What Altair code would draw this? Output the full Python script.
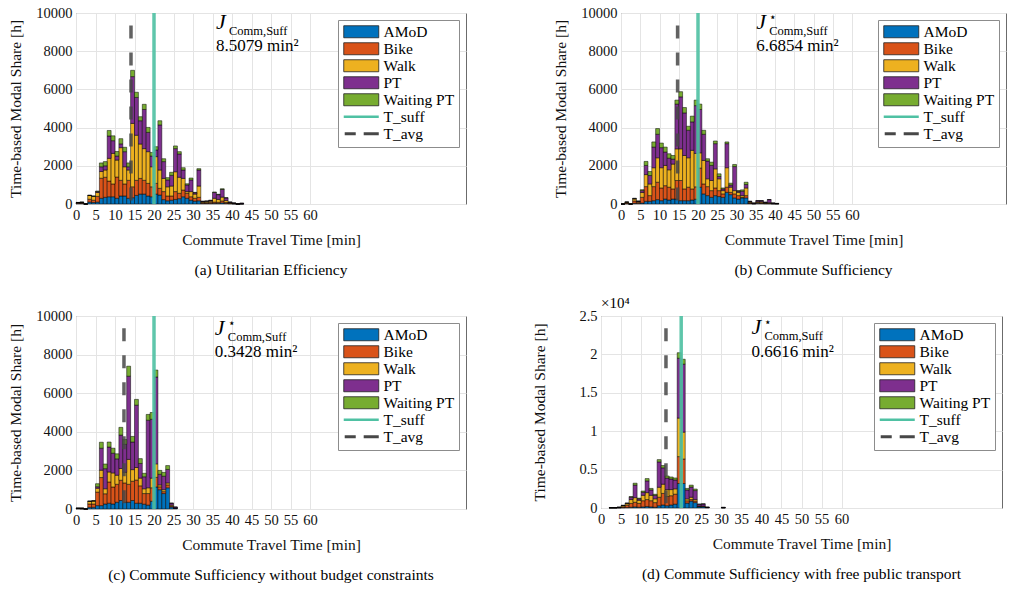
import altair as alt
import pandas as pd

SERIF = "Liberation Serif"

MODES = ["AMoD", "Bike", "Walk", "PT", "Waiting PT"]
MODE_COLORS = ["#0072BD", "#D95319", "#EDB120", "#7E2F8E", "#77AC30"]
LINE_NAMES = ["T_suff", "T_avg"]
LINE_COLORS = ["#4fc1a3", "#474747"]

X_TICKS = [0, 5, 10, 15, 20, 25, 30, 35, 40, 45, 50, 55, 60]
Y_TICKS_ABC = [0, 2000, 4000, 6000, 8000, 10000]
Y_TICKS_D = [0, 5000, 10000, 15000, 20000, 25000]

# ---------------- panel (a) Utilitarian Efficiency ----------------
A_MIN = [0, 1, 2, 3, 4, 5, 6, 7, 8, 9, 10, 11, 12, 13, 14, 15, 16, 17, 18, 19, 20,
         21, 22, 23, 24, 25, 26, 27, 28, 29, 30, 31, 32, 33, 34, 35, 36, 37, 38, 39, 40, 41, 42]
A_AMOD = [30, 30, 0, 100, 80, 100, 300, 350, 380, 380, 300, 420, 420, 300, 330, 450, 520, 520, 420, 380, 520,
          470, 230, 170, 200, 240, 280, 380, 300, 200, 150, 170, 30, 30, 30, 40, 40, 60, 30, 20, 10, 0, 10]
A_BIKE = [30, 30, 0, 150, 120, 300, 1050, 1050, 820, 670, 1110, 820, 630, 940, 570, 790, 820, 720, 660, 520, 560,
          350, 420, 250, 220, 410, 280, 350, 260, 180, 150, 180, 40, 40, 60, 60, 50, 100, 50, 20, 10, 0, 0]
A_WALK = [20, 30, 0, 200, 200, 200, 350, 380, 1190, 1600, 890, 1710, 900, 540, 3320, 2360, 1800, 1660, 1660, 1050, 1400,
          960, 690, 480, 520, 1040, 840, 610, 90, 270, 220, 590, 40, 50, 60, 200, 150, 200, 100, 30, 20, 0, 0]
A_PT = [0, 0, 0, 0, 0, 50, 250, 220, 1170, 665, 210, 200, 790, 170, 2450, 1980, 1220, 2050, 1010, 560, 350,
        2360, 880, 360, 560, 1210, 1220, 440, 350, 610, 70, 840, 30, 30, 40, 300, 250, 400, 140, 30, 10, 0, 30]
A_WAIT = [0, 0, 0, 0, 20, 30, 200, 220, 290, 255, 240, 270, 230, 200, 330, 270, 210, 270, 260, 190, 170,
          220, 150, 120, 160, 140, 120, 120, 60, 100, 20, 70, 0, 10, 0, 30, 20, 40, 10, 0, 0, 0, 0]

# ---------------- panel (b) Commute Sufficiency ----------------
B_MIN = [0, 1, 2, 3, 4, 5, 6, 7, 8, 9, 10, 11, 12, 13, 14, 15, 16, 17, 18, 19, 20,
         21, 22, 23, 24, 25, 26, 27, 28, 29, 30, 31, 32, 33, 34, 35, 36, 37, 38, 39, 40]
B_AMOD = [0, 20, 0, 40, 30, 50, 140, 140, 175, 230, 175, 260, 210, 260, 260, 175, 175, 175, 210, 250, 880,
          530, 440, 350, 440, 390, 350, 610, 490, 320, 260, 320, 320, 30, 10, 40, 30, 20, 20, 10, 10]
B_BIKE = [0, 40, 0, 120, 60, 300, 770, 300, 735, 910, 665, 700, 670, 530, 970, 1055, 615, 705, 580, 650, 1000,
          520, 470, 350, 400, 310, 180, 270, 120, 210, 180, 30, 120, 30, 10, 40, 40, 20, 20, 10, 5]
B_WALK = [0, 40, 0, 100, 40, 250, 630, 610, 990, 1280, 1060, 1060, 910, 1300, 1660, 1660, 1750, 1540, 2020, 1750, 800,
          1230, 410, 530, 1000, 620, 170, 1020, 270, 170, 170, 90, 400, 40, 10, 40, 50, 20, 30, 10, 5]
B_PT = [0, 0, 0, 30, 20, 100, 480, 440, 1080, 1230, 1050, 700, 610, 260, 2340, 2720, 2230, 1440, 1490, 2500, 2270,
        1370, 930, 790, 1320, 120, 90, 1260, 120, 1260, 60, 230, 180, 40, 20, 55, 55, 30, 160, 20, 10]
B_WAIT = [0, 0, 0, 10, 0, 50, 210, 210, 270, 300, 240, 260, 230, 190, 210, 270, 280, 210, 300, 290, 280,
          210, 120, 170, 140, 140, 50, 90, 90, 110, 30, 70, 120, 0, 0, 0, 0, 0, 0, 0, 0]

# ---------------- panel (c) without budget constraints ----------------
C_MIN = [0, 1, 2, 3, 4, 5, 6, 7, 8, 9, 10, 11, 12, 13, 14, 15, 16, 17, 18, 19, 20, 21, 22, 23, 24, 25]
C_AMOD = [20, 10, 0, 90, 90, 175, 175, 260, 300, 260, 350, 440, 350, 350, 440, 300, 300, 250, 200, 400, 1140,
          1000, 800, 1100, 100, 50]
C_BIKE = [10, 10, 0, 170, 170, 700, 1455, 530, 1100, 880, 930, 1050, 1000, 930, 1000, 1200, 900, 550, 600, 700, 500,
          150, 100, 150, 50, 0]
C_WALK = [10, 20, 0, 140, 160, 200, 380, 260, 520, 730, 470, 610, 550, 1290, 600, 650, 400, 250, 300, 500, 700,
          100, 100, 100, 50, 0]
C_PT = [0, 0, 0, 0, 0, 80, 1140, 1040, 1290, 1020, 850, 1730, 1450, 4310, 1430, 3230, 760, 620, 3500, 3050, 4500,
        550, 700, 700, 100, 50]
C_WAIT = [0, 0, 0, 0, 0, 155, 310, 240, 260, 260, 260, 400, 250, 520, 290, 300, 250, 180, 300, 350, 360,
          200, 200, 200, 0, 0]

# ---------------- panel (d) free public transport ----------------
D_MIN = [2, 3, 4, 5, 6, 7, 8, 9, 10, 11, 12, 13, 14, 15, 16, 17, 18, 19, 20, 21, 22, 23, 24, 25, 26, 30]
D_AMOD = [20, 20, 20, 50, 60, 100, 150, 100, 150, 200, 150, 100, 300, 400, 300, 400, 500, 3190, 3190,
          640, 900, 700, 150, 150, 50, 40]
D_BIKE = [10, 10, 40, 100, 300, 500, 600, 500, 800, 900, 800, 600, 1100, 1500, 1200, 1200, 1300, 3500, 3190,
          300, 200, 200, 50, 50, 20, 0]
D_WALK = [10, 10, 20, 150, 200, 500, 600, 400, 700, 900, 700, 500, 1300, 1200, 900, 800, 700, 5020, 3500,
          250, 300, 200, 50, 50, 10, 0]
D_PT = [10, 10, 20, 40, 60, 300, 1630, 200, 400, 1530, 700, 450, 3300, 2130, 1500, 1380, 1150, 7790, 8850,
        1160, 1330, 1170, 230, 270, 20, 40]
D_WAIT = [0, 0, 0, 0, 20, 90, 250, 80, 160, 300, 200, 140, 300, 300, 270, 260, 260, 720, 640,
          200, 250, 200, 30, 30, 0, 0]

# reference lines and dashed-line top, per panel
T_SUFF = [20, 20, 20, 20]
T_AVG = [14.1, 14.7, 12.3, 16.2]
AVG_TOP = [9350, 9350, 9370, 23400]
Y_MAX = [10000, 10000, 10000, 25000]

# annotations
ANN_X = [35.9, 35.1, 35.6, 37.5]
ANN_Y1 = [9530, 9530, 9380, 23570]
ANN_Y2 = [8270, 8270, 8120, 20350]
ANN_STAR = [False, True, True, True]
ANN_VAL = ["8.5079 min²", "6.6854 min²", "0.3428 min²", "0.6616 min²"]

CAPTIONS = ["(a) Utilitarian Efficiency",
            "(b) Commute Sufficiency",
            "(c) Commute Sufficiency without budget constraints",
            "(d) Commute Sufficiency with free public transport"]

LEG_DOMAIN = MODES + LINE_NAMES
LEG_RANGE = MODE_COLORS + LINE_COLORS

SYM_EXPR = ("datum.value == 'T_suff' ? 'M-2.86,-0.22H2.86V0.22H-2.86Z' : "
            "datum.value == 'T_avg' ? 'M-2.7,-0.25H-0.9V0.25H-2.7Z M0.4,-0.25H2.86V0.25H0.4Z' : "
            "'M-2.86,-0.98H2.86V0.98H-2.86Z'")
STROKE_EXPR = "(datum.value == 'T_suff' || datum.value == 'T_avg') ? 'transparent' : '#222222'"


def make_legend():
    return alt.Legend(
        title=None, orient="top-right", offset=7,
        symbolType=alt.ExprRef(expr=SYM_EXPR),
        symbolStrokeColor=alt.ExprRef(expr=STROKE_EXPR),
        symbolStrokeWidth=0.8, symbolSize=150, symbolOffset=11.5, symbolOpacity=1,
        labelOffset=14.5, labelFont=SERIF, labelFontSize=15.5, labelColor="black",
        fillColor="white", strokeColor="#8c8c8c", padding=4, rowPadding=0,
    )


def make_panel(idx, minutes, series, width, height, y_ticks, y_title_pad, scaled):
    rows = []
    for k, (mode, vals) in enumerate(zip(MODES, series)):
        for m, v in zip(minutes, vals):
            rows.append({"t0": m, "t1": m + 1, "mode": mode, "k": k, "value": v})
    df = pd.DataFrame(rows)
    y_max = Y_MAX[idx]

    if scaled:
        yaxis = alt.Axis(values=y_ticks, tickCount=20, labelExpr="datum.value / 10000",
                         titlePadding=y_title_pad, labelOverlap=False)
    else:
        yaxis = alt.Axis(values=y_ticks, tickCount=20, format="d", titlePadding=y_title_pad,
                         labelOverlap=False)

    bars = alt.Chart(df).transform_stack(
        stack="value", groupby=["t0"], as_=["y0", "y1"],
        sort=[alt.SortField("k", order="ascending")], offset="zero",
    ).mark_bar(stroke="black", strokeWidth=0.5).encode(
        x=alt.X("t0:Q", scale=alt.Scale(domain=[0, 100], nice=False, zero=False),
                axis=alt.Axis(values=X_TICKS, tickCount=40, titlePadding=11, labelOverlap=False,
                              labelFlush=False),
                title="Commute Travel Time [min]"),
        x2="t1:Q",
        y=alt.Y("y0:Q", scale=alt.Scale(domain=[0, y_max], nice=False),
                axis=yaxis, title="Time-based Modal Share [h]"),
        y2="y1:Q",
        fill=alt.Fill("mode:N", scale=alt.Scale(domain=LEG_DOMAIN, range=LEG_RANGE), legend=make_legend()),
    )

    one = pd.DataFrame({"_": [0]})
    suff = alt.Chart(one).mark_rule(color=LINE_COLORS[0], strokeWidth=3.5, opacity=0.9).encode(
        x=alt.datum(T_SUFF[idx]), y=alt.datum(0), y2=alt.datum(y_max))
    avg = alt.Chart(one).mark_rule(color=LINE_COLORS[1], strokeWidth=3.5, strokeDash=[13, 14],
                                   opacity=0.85).encode(
        x=alt.datum(T_AVG[idx]), y=alt.datum(AVG_TOP[idx]), y2=alt.datum(0))

    j = alt.Chart(one).mark_text(text="J", font=SERIF, fontStyle="italic", fontSize=22,
                                 align="left", baseline="middle", color="black").encode(
        x=alt.datum(ANN_X[idx]), y=alt.datum(ANN_Y1[idx]))
    sub = alt.Chart(one).mark_text(text="Comm,Suff", font=SERIF, fontSize=12.5,
                                   align="left", baseline="middle", dx=13, dy=9, color="black").encode(
        x=alt.datum(ANN_X[idx]), y=alt.datum(ANN_Y1[idx]))
    val = alt.Chart(one).mark_text(text=ANN_VAL[idx], font=SERIF, fontSize=17,
                                   align="left", baseline="middle", color="black").encode(
        x=alt.datum(ANN_X[idx]), y=alt.datum(ANN_Y2[idx]))
    layers = [bars, suff, avg, j, sub, val]
    if ANN_STAR[idx]:
        star = alt.Chart(one).mark_text(text="⋆", font="DejaVu Serif", fontSize=12,
                                        align="left", baseline="middle", dx=13, dy=-5, color="black").encode(
            x=alt.datum(ANN_X[idx]), y=alt.datum(ANN_Y1[idx]))
        layers.append(star)
    if scaled:
        exp = alt.Chart(one).mark_text(text="×10⁴", font=SERIF, fontSize=15, align="left",
                                       baseline="bottom", dy=-5, color="black").encode(
            x=alt.datum(0), y=alt.datum(y_max))
        layers.append(exp)

    return alt.layer(*layers).properties(
        width=width, height=height,
        title=alt.TitleParams(CAPTIONS[idx], orient="bottom", anchor="middle", offset=15,
                              font=SERIF, fontSize=15.5, fontWeight="normal", color="black"),
    )


pa = make_panel(0, A_MIN, [A_AMOD, A_BIKE, A_WALK, A_PT, A_WAIT], 390, 191, Y_TICKS_ABC, 12, False)
pb = make_panel(1, B_MIN, [B_AMOD, B_BIKE, B_WALK, B_PT, B_WAIT], 385, 191, Y_TICKS_ABC, 12, False)
pc = make_panel(2, C_MIN, [C_AMOD, C_BIKE, C_WALK, C_PT, C_WAIT], 390, 193, Y_TICKS_ABC, 12, False)
pd_ = make_panel(3, D_MIN, [D_AMOD, D_BIKE, D_WALK, D_PT, D_WAIT], 401, 192, Y_TICKS_D, 31, True)

row1 = alt.hconcat(pa, pb, spacing=86).resolve_scale(fill="independent").resolve_legend(fill="independent")
row2 = alt.hconcat(pc, pd_, spacing=65).resolve_scale(fill="independent").resolve_legend(fill="independent")

chart = alt.vconcat(row1, row2, spacing=16).resolve_scale(fill="independent").resolve_legend(
    fill="independent"
).properties(
    padding={"left": 8, "top": 4, "right": 5, "bottom": 5}
).configure(font=SERIF).configure_axis(
    labelFont=SERIF, titleFont=SERIF, labelFontSize=14.5, titleFontSize=15.5,
    labelColor="#111111", titleColor="#111111", titleFontWeight="normal",
    gridColor="#e4e4e4", gridWidth=1, domain=False, ticks=False, labelPadding=4,
    labelOverlap=False,
).configure_view(stroke="#6b6b6b", strokeWidth=1)

chart.save("out.html", embed_options={"renderer": "svg", "actions": False})
